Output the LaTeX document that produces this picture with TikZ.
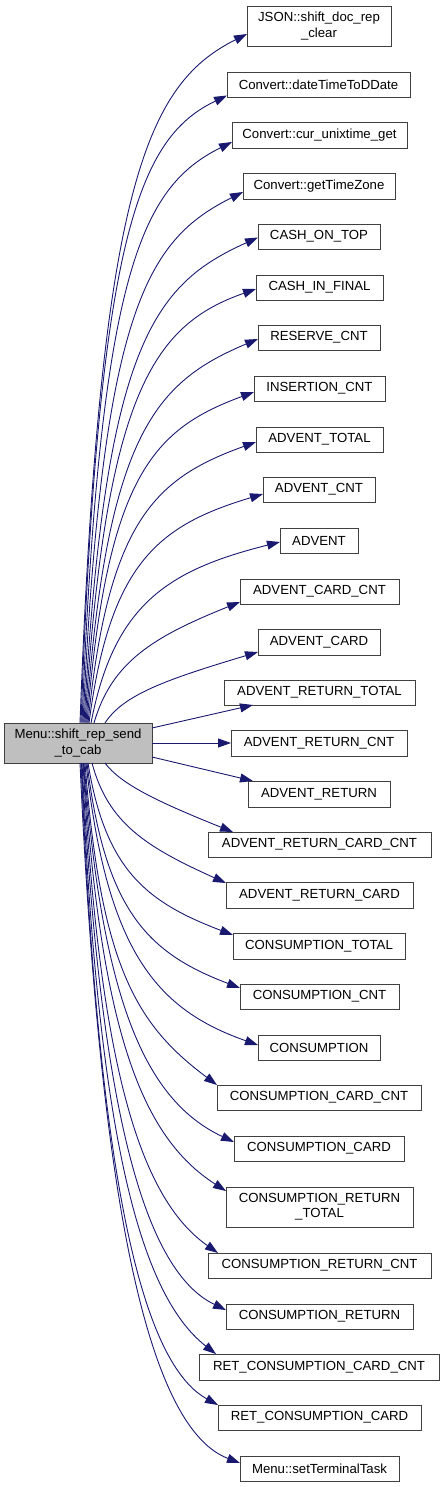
\documentclass[tikz,border=0pt]{standalone}
\usepackage{fontspec}
\setmainfont{Liberation Sans}
\usetikzlibrary{arrows.meta,calc}
\definecolor{edgecol}{HTML}{191970}
\definecolor{boxline}{HTML}{404040}
\definecolor{mainfill}{HTML}{BFBFBF}
\tikzset{
  fn/.style={draw=boxline, line width=0.9pt, inner sep=0pt, outer sep=0pt, align=center,
    font=\fontsize{13.2}{15.3}\selectfont},
  calledge/.style={draw=edgecol, line width=0.9pt, -{Triangle[length=13pt,width=9pt]}}
}
% #1 start shift, #2 anchor of main, #3 end point, #4 signed end slope, #5 first control fraction
\newcommand\calledge[5]{%
  \draw[calledge] let \p0=([xshift=#1pt]main.#2), \p3=(#3) in
    (\p0) .. controls ({\x0+0.12*(\x3-\x0)},{\y0+#5*(\y3-\y0)})
              and ({\x0+0.4*(\x3-\x0)},{\y3-0.6*(#4)*(\x3-\x0)}) .. (\p3);}
\begin{document}
\begin{tikzpicture}[x=1pt,y=-1pt]
\useasboundingbox (0,0) rectangle (444,1487);
\node[fn, fill=mainfill, minimum width=148pt, minimum height=40pt] (main) at (78,743) {Menu::shift\_rep\_send\\\_to\_cab};
\node[fn, minimum width=144pt, minimum height=40pt] (json) at (319,26) {JSON::shift\_doc\_rep\\\_clear};
\node[fn, minimum width=183pt, minimum height=25pt] (dt) at (318.5,84.5) {Convert::dateTimeToDDate};
\node[fn, minimum width=175pt, minimum height=26pt] (cu) at (319.5,135) {Convert::cur\_unixtime\_get};
\node[fn, minimum width=152pt, minimum height=26pt] (tz) at (319,186) {Convert::getTimeZone};
\node[fn, minimum width=122pt, minimum height=25pt] (cot) at (319,236.5) {CASH\_ON\_TOP};
\node[fn, minimum width=127pt, minimum height=25pt] (cif) at (319.5,287.5) {CASH\_IN\_FINAL};
\node[fn, minimum width=122pt, minimum height=25pt] (res) at (319,337.5) {RESERVE\_CNT};
\node[fn, minimum width=131pt, minimum height=25pt] (ins) at (319.5,388.5) {INSERTION\_CNT};
\node[fn, minimum width=127pt, minimum height=25pt] (at) at (319.5,439.5) {ADVENT\_TOTAL};
\node[fn, minimum width=112pt, minimum height=25pt] (ac) at (319,489.5) {ADVENT\_CNT};
\node[fn, minimum width=78pt, minimum height=25pt] (adv) at (319,540.5) {ADVENT};
\node[fn, minimum width=159pt, minimum height=25pt] (acc) at (319.5,591.5) {ADVENT\_CARD\_CNT};
\node[fn, minimum width=122pt, minimum height=26pt] (acard) at (319,642) {ADVENT\_CARD};
\node[fn, minimum width=191pt, minimum height=25pt] (art) at (319.5,692.5) {ADVENT\_RETURN\_TOTAL};
\node[fn, minimum width=176pt, minimum height=26pt] (arc) at (319,743) {ADVENT\_RETURN\_CNT};
\node[fn, minimum width=142pt, minimum height=26pt] (ar) at (319,794) {ADVENT\_RETURN};
\node[fn, minimum width=223pt, minimum height=25pt] (arcc) at (319.5,844.5) {ADVENT\_RETURN\_CARD\_CNT};
\node[fn, minimum width=187pt, minimum height=26pt] (arcard) at (319.5,895) {ADVENT\_RETURN\_CARD};
\node[fn, minimum width=172pt, minimum height=26pt] (ct) at (319,946) {CONSUMPTION\_TOTAL};
\node[fn, minimum width=159pt, minimum height=25pt] (cc) at (319.5,996.5) {CONSUMPTION\_CNT};
\node[fn, minimum width=122pt, minimum height=25pt] (cons) at (319,1047.5) {CONSUMPTION};
\node[fn, minimum width=204pt, minimum height=25pt] (ccc) at (319,1097.5) {CONSUMPTION\_CARD\_CNT};
\node[fn, minimum width=170pt, minimum height=25pt] (ccard) at (319,1148.5) {CONSUMPTION\_CARD};
\node[fn, minimum width=187pt, minimum height=40pt] (crt) at (319.5,1207) {CONSUMPTION\_RETURN\\\_TOTAL};
\node[fn, minimum width=223pt, minimum height=25pt] (crc) at (319.5,1265.5) {CONSUMPTION\_RETURN\_CNT};
\node[fn, minimum width=187pt, minimum height=25pt] (cr) at (319.5,1316.5) {CONSUMPTION\_RETURN};
\node[fn, minimum width=240pt, minimum height=26pt] (rccc) at (319,1367) {RET\_CONSUMPTION\_CARD\_CNT};
\node[fn, minimum width=203pt, minimum height=25pt] (rcc) at (319.5,1417.5) {RET\_CONSUMPTION\_CARD};
\node[fn, minimum width=159pt, minimum height=25pt] (stt) at (319.5,1468.5) {Menu::setTerminalTask};
% upward edges
\calledge{2}{north}{[yshift=-8pt]json.west}{0.5}{0.78}
\calledge{3}{north}{[yshift=-11pt]dt.west}{0.48}{0.78}
\calledge{4}{north}{[yshift=-7pt]cu.west}{0.5}{0.78}
\calledge{5}{north}{[yshift=-6pt]tz.west}{0.5}{0.78}
\calledge{6}{north}{[yshift=-1pt]cot.west}{0.45}{0.78}
\calledge{7}{north}{[yshift=-1.5pt]cif.west}{0.35}{0.76}
\calledge{8}{north}{[yshift=-1.5pt]res.west}{0.42}{0.75}
\calledge{9}{north}{[yshift=-3.5pt]ins.west}{0.37}{0.75}
\calledge{10}{north}{[yshift=-2.5pt]at.west}{0.36}{0.72}
\calledge{11}{north}{[yshift=-4.5pt]ac.west}{0.3}{0.7}
\calledge{13}{north}{[yshift=-1.5pt]adv.west}{0.25}{0.65}
\calledge{16}{north}{[yshift=-10.5pt]acc.west}{0.4}{0.5}
\calledge{27}{north}{[yshift=-10pt]acard.west}{0.3}{0.4}
% side edges
\draw[calledge] ([yshift=15pt]main.east) -- ([xshift=-66.5pt]art.south);
\draw[calledge] (main.east) -- (arc.west);
\draw[calledge] ([yshift=-14pt]main.east) -- ([xshift=-66pt]ar.north);
% downward edges
\calledge{27}{south}{[xshift=25pt]arcc.north west}{-0.4}{0.3}
\calledge{14}{south}{[yshift=-1pt]arcard.north west}{-0.45}{0.5}
\calledge{10}{south}{[yshift=-2pt]ct.north west}{-0.38}{0.62}
\calledge{9}{south}{[yshift=-4pt]cc.north west}{-0.38}{0.66}
\calledge{8}{south}{[yshift=-10pt]cons.north west}{-0.35}{0.66}
\calledge{7}{south}{ccc.north west}{-0.75}{0.64}
\calledge{6}{south}{[yshift=-6pt]ccard.north west}{-0.47}{0.62}
\calledge{5.5}{south}{[yshift=-4pt]crt.north west}{-0.64}{0.62}
\calledge{5}{south}{[xshift=10pt]crc.north west}{-0.7}{0.6}
\calledge{4}{south}{[yshift=-6pt]cr.north west}{-0.48}{0.6}
\calledge{3.5}{south}{[xshift=17pt]rccc.north west}{-0.78}{0.6}
\calledge{3}{south}{rcc.north west}{-0.55}{0.6}
\calledge{2}{south}{[yshift=-7pt]stt.north west}{-0.38}{0.6}
\end{tikzpicture}
\end{document}
